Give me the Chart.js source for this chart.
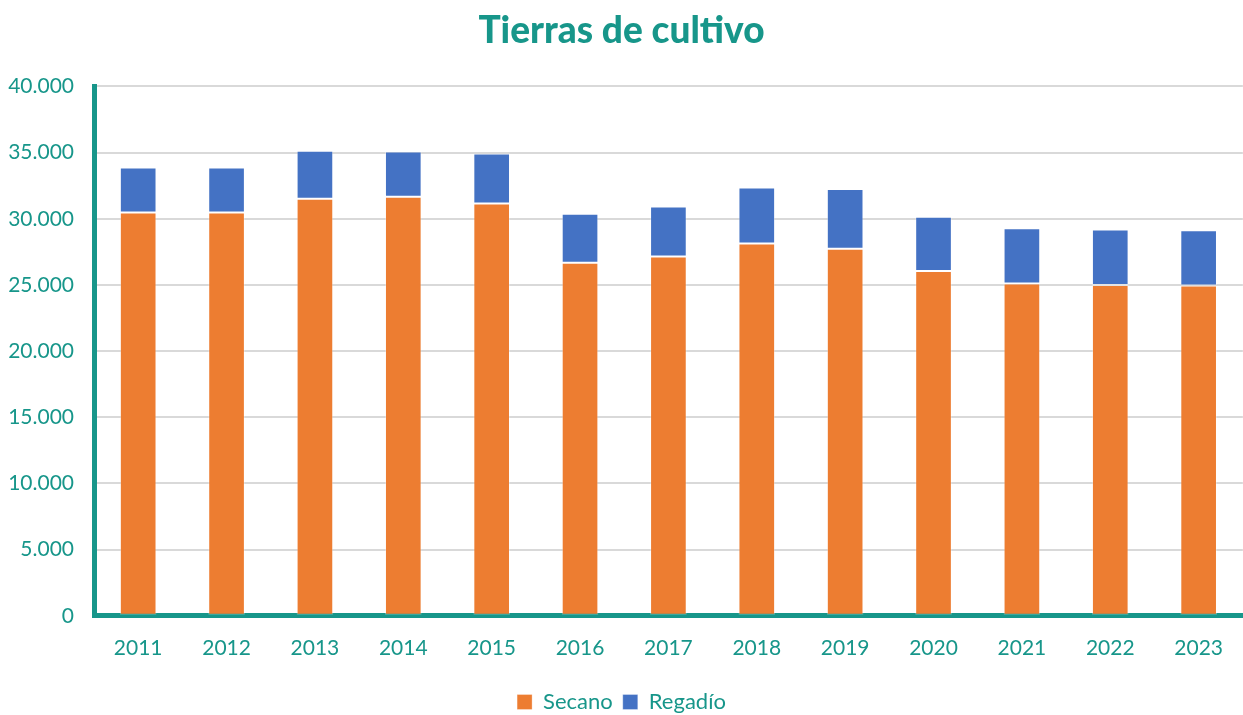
<!DOCTYPE html>
<html>
<head>
<meta charset="utf-8">
<script src="https://cdn.jsdelivr.net/npm/chart.js@4"></script>
<style>
  html, body { margin: 0; padding: 0; background: #fff; }
  #wrap { width: 1243px; height: 715px; }
</style>
</head>
<body>
<div id="wrap"><canvas id="myChart"></canvas></div>
<script>
// Datos del gráfico
var years = ['2011', '2012', '2013', '2014', '2015', '2016', '2017', '2018', '2019', '2020', '2021', '2022', '2023'];
var secano = [30470, 30470, 31510, 31660, 31150, 26670, 27150, 28130, 27730, 26060, 25100, 25000, 24950];
var regadio = [3400, 3400, 3630, 3420, 3780, 3700, 3780, 4230, 4510, 4090, 4190, 4190, 4190];
var yTicks = ['0', '5.000', '10.000', '15.000', '20.000', '25.000', '30.000', '35.000', '40.000'];

var teal = '#17968a';
Chart.defaults.font.family = 'Lato, "Noto Sans", sans-serif';

var ctx = document.getElementById('myChart').getContext('2d');
var myChart = new Chart(ctx, {
    type: 'bar',
    data: {
        labels: years,
        datasets: [{
            label: 'Secano',
            data: secano,
            backgroundColor: '#ed7d31',
            borderColor: 'rgba(255,255,255,0.3)',
            borderWidth: 1,
            borderSkipped: false
        }, {
            label: 'Regadío',
            data: regadio,
            backgroundColor: '#4472c4',
            borderColor: 'rgba(255,255,255,0.3)',
            borderWidth: 1,
            borderSkipped: false
        }]
    },
    options: {
        responsive: true,
        maintainAspectRatio: false,
        animation: false,
        layout: { padding: { left: 0, right: 0, top: 0, bottom: -8 } },
        datasets: {
            bar: { barPercentage: 0.415, categoryPercentage: 1 }
        },
        plugins: {
            title: {
                display: true,
                text: 'Tierras de cultivo',
                color: teal,
                font: { size: 37, weight: '900' },
                padding: { top: 9, bottom: 33 }
            },
            legend: {
                position: 'bottom',
                labels: {
                    color: teal,
                    font: { size: 22 },
                    boxWidth: 15,
                    boxHeight: 15,
                    padding: 10
                }
            },
            tooltip: { enabled: false }
        },
        scales: {
            x: {
                stacked: true,
                grid: { display: false, drawTicks: false },
                border: { color: teal, width: 5 },
                ticks: { color: teal, font: { size: 21 }, padding: 20 }
            },
            y: {
                stacked: true,
                min: 0,
                max: 40000,
                grid: { color: '#d9d9d9', lineWidth: 2, drawTicks: false },
                border: { color: teal, width: 5 },
                ticks: {
                    stepSize: 5000,
                    color: teal,
                    font: { size: 21 },
                    padding: 20,
                    callback: function (value) { return yTicks[value / 5000]; }
                },
                afterFit: function (scale) { scale.width = 94; }
            }
        }
    }
});
</script>
</body>
</html>
